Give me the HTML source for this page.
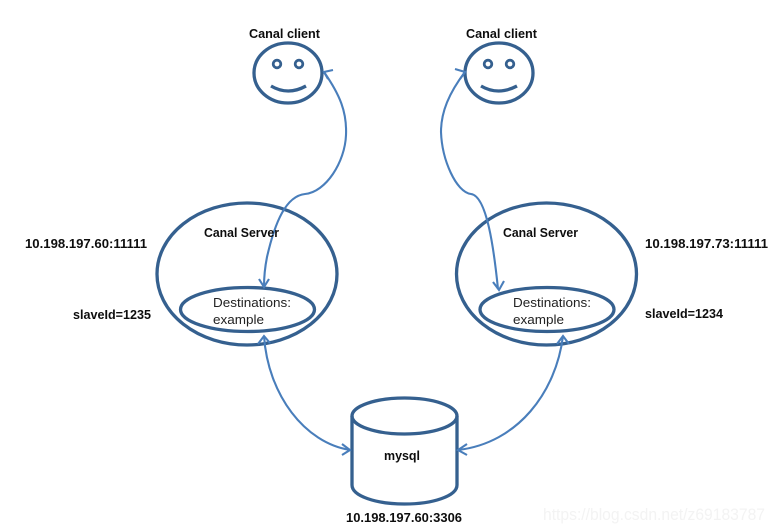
<!DOCTYPE html>
<html>
<head>
<meta charset="utf-8">
<style>
html,body{margin:0;padding:0;background:#fff;width:776px;height:532px;overflow:hidden}
svg{display:block}
text{font-family:"Liberation Sans",sans-serif}
.b{font-weight:bold;font-size:12.8px;fill:#111}
.n{font-size:13px;fill:#222}
.s{fill:none;stroke:#34608f;stroke-width:3.3}
.a{fill:none;stroke:#4a7ebb;stroke-width:2.1}
</style>
</head>
<body>
<svg width="776" height="532" viewBox="0 0 776 532" xmlns="http://www.w3.org/2000/svg">
<rect width="776" height="532" fill="#fff"/>
<text x="543" y="520" font-size="16.5" fill="#f3f3f3" textLength="222" lengthAdjust="spacingAndGlyphs">https://blog.csdn.net/z69183787</text>

<g filter="url(#bl)">
<!-- faces -->
<ellipse class="s" cx="288" cy="73" rx="34" ry="30"/>
<circle cx="277" cy="64" r="3.8" fill="none" stroke="#34608f" stroke-width="2.8"/>
<circle cx="299" cy="64" r="3.8" fill="none" stroke="#34608f" stroke-width="2.8"/>
<path class="s" d="M271 86Q288 96 306 86"/>
<ellipse class="s" cx="499" cy="73" rx="34" ry="30"/>
<circle cx="488" cy="64" r="3.8" fill="none" stroke="#34608f" stroke-width="2.8"/>
<circle cx="510" cy="64" r="3.8" fill="none" stroke="#34608f" stroke-width="2.8"/>
<path class="s" d="M481 86Q498 96 517 86"/>

<!-- servers -->
<ellipse class="s" cx="247" cy="274" rx="90" ry="71"/>
<ellipse class="s" cx="247.5" cy="309.500" rx="67" ry="22"/>
<ellipse class="s" cx="546.500" cy="274" rx="90" ry="71"/>
<ellipse class="s" cx="547" cy="309.500" rx="67" ry="22"/>

<!-- cylinder -->
<ellipse class="s" cx="404.500" cy="416" rx="52.500" ry="18"/>
<path class="s" d="M352 416V485C352 496 376 504 404.500 504S457 496 457 485V416"/>

<!-- client arrows -->
<path class="a" d="M324 72C340 95 347 112 346 135C345 162 326 192 305 194C286 196 275 222 267 257Q264 272 264 287"/>
<path class="a" d="M333 70L324 72L328 79"/>
<path class="a" d="M259 279L264 287L269 279"/>
<path class="a" d="M465 72C449 93 441 112 441 132C442 160 456 192 471 194C487 196 494 250 498 289"/>
<path class="a" d="M455 69L465 72L460 79"/>
<path class="a" d="M493 282L499 290L504 281"/>

<!-- database arrows -->
<path class="a" d="M264 336C268 395 305 443 350 450"/>
<path class="a" d="M258 344L264 336L270 343"/>
<path class="a" d="M342 444L350 450L342 455"/>
<path class="a" d="M563 336C556 392 518 443 458 450"/>
<path class="a" d="M557 344L563 336L569 344"/>
<path class="a" d="M467 444L458 450L467 455"/>

<!-- labels -->
<text class="b" x="249" y="38" textLength="71" lengthAdjust="spacingAndGlyphs">Canal client</text>
<text class="b" x="466" y="38" textLength="71" lengthAdjust="spacingAndGlyphs">Canal client</text>
<text class="b" x="204" y="237" textLength="75" lengthAdjust="spacingAndGlyphs">Canal Server</text>
<text class="b" x="503" y="237" textLength="75" lengthAdjust="spacingAndGlyphs">Canal Server</text>
<text class="b" x="25" y="248" textLength="122" lengthAdjust="spacingAndGlyphs">10.198.197.60:11111</text>
<text class="b" x="645" y="248" textLength="123" lengthAdjust="spacingAndGlyphs">10.198.197.73:11111</text>
<text class="b" x="73" y="319" textLength="78" lengthAdjust="spacingAndGlyphs">slaveId=1235</text>
<text class="b" x="645" y="318" textLength="78" lengthAdjust="spacingAndGlyphs">slaveId=1234</text>
<text class="n" x="213" y="307" textLength="78" lengthAdjust="spacingAndGlyphs">Destinations:</text>
<text class="n" x="213" y="324" textLength="51" lengthAdjust="spacingAndGlyphs">example</text>
<text class="n" x="513" y="307" textLength="78" lengthAdjust="spacingAndGlyphs">Destinations:</text>
<text class="n" x="513" y="324" textLength="51" lengthAdjust="spacingAndGlyphs">example</text>
<text class="b" x="384" y="460" textLength="36" lengthAdjust="spacingAndGlyphs">mysql</text>
<text class="b" x="346" y="522" textLength="116" lengthAdjust="spacingAndGlyphs">10.198.197.60:3306</text>
</g>
<defs>
<filter id="bl" x="0" y="0" width="776" height="532" filterUnits="userSpaceOnUse"><feGaussianBlur stdDeviation="0.35"/></filter>
</defs>
</svg>
</body>
</html>
